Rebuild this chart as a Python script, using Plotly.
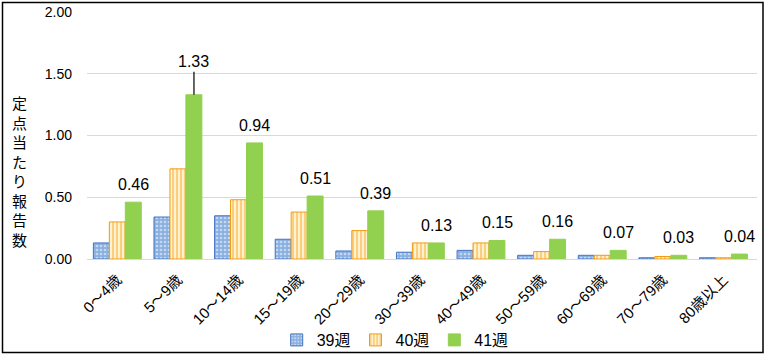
import plotly.graph_objects as go

categories = ["0～4歳", "5～9歳", "10～14歳", "15～19歳", "20～29歳", "30～39歳",
              "40～49歳", "50～59歳", "60～69歳", "70～79歳", "80歳以上"]
week39 = [0.13, 0.34, 0.35, 0.16, 0.065, 0.055, 0.07, 0.03, 0.03, 0.01, 0.01]
week40 = [0.30, 0.73, 0.48, 0.38, 0.23, 0.13, 0.13, 0.06, 0.03, 0.02, 0.01]
week41 = [0.46, 1.33, 0.94, 0.51, 0.39, 0.13, 0.15, 0.16, 0.07, 0.03, 0.04]
series_names = ["39週", "40週", "41週"]
y_ticks = [0, 0.5, 1.0, 1.5, 2.0]
y_title = "定点当たり報告数"

W, H = 769, 358
ML, MR, MT, MB = 87, 12, 12, 99
BARGAP = 0.21
FONT = "Liberation Sans, Noto Sans CJK JP, sans-serif"
JP = "Noto Sans CJK JP, sans-serif"

fig = go.Figure()
fig.add_trace(go.Bar(
    name=series_names[0], x=categories, y=week39,
    marker=dict(color="#9DC3E6", line=dict(color="#4472C4", width=1),
                pattern=dict(shape=".", fgcolor="#FFFFFF", bgcolor="#8AB0E0", size=4, solidity=0.35)),
))
fig.add_trace(go.Bar(
    name=series_names[1], x=categories, y=week40,
    marker=dict(color="#F5A623", line=dict(color="#F39C12", width=1),
                pattern=dict(shape="|", fgcolor="#F5A11E", bgcolor="#FFF3CF", size=4, solidity=0.45)),
))
fig.add_trace(go.Bar(
    name=series_names[2], x=categories, y=week41,
    marker=dict(color="#92D050", line=dict(color="#92D050", width=1)),
))

plot_w = W - ML - MR
plot_h = H - MT - MB
cat_px = plot_w / len(categories)
green_shift = (1 - BARGAP) / 3 * cat_px

annotations = []
for c, v in zip(categories, week41):
    if v == max(week41):
        annotations.append(dict(x=c, y=v, xref="x", yref="y", text=f"{v:.2f}",
                                showarrow=True, arrowhead=0, arrowwidth=1.2, arrowcolor="#000",
                                ax=0, ay=-33, xshift=green_shift, standoff=0,
                                font=dict(family=FONT, size=16, color="#000")))
    else:
        annotations.append(dict(x=c, y=v, xref="x", yref="y", text=f"{v:.2f}",
                                showarrow=False, yanchor="bottom", yshift=7, xshift=green_shift,
                                font=dict(family=FONT, size=16, color="#000")))

# vertical stacked y-axis title
annotations.append(dict(xref="paper", yref="paper", x=-(ML - 19) / plot_w,
                        y=1 - (171 - MT) / plot_h, text="<br>".join(y_title), showarrow=False,
                        xanchor="center", yanchor="middle", align="center",
                        font=dict(family=JP, size=15, color="#000")))

fig.update_layout(
    width=W, height=H,
    margin=dict(l=ML, r=MR, t=MT, b=MB, autoexpand=False),
    paper_bgcolor="white", plot_bgcolor="white",
    barmode="group", bargap=BARGAP, bargroupgap=0,
    font=dict(family=FONT, color="#000"),
    showlegend=True,
    legend=dict(orientation="h", x=0.46, xanchor="center", y=-(340 - (H - MB)) / plot_h,
                yanchor="middle", font=dict(family=FONT, size=16), itemwidth=30,
                bgcolor="rgba(0,0,0,0)", tracegroupgap=0),
    xaxis=dict(type="category", tickangle=-45, tickfont=dict(family=FONT, size=15),
               ticklabelstandoff=5,
               showline=True, linecolor="#D9D9D9", linewidth=1, ticks="", automargin=False),
    yaxis=dict(range=[0, 2.0], tickvals=y_ticks, tickformat=".2f", automargin=False,
               showgrid=True, gridcolor="#D9D9D9", gridwidth=1, zeroline=False,
               tickfont=dict(family=FONT, size=14), ticklabelstandoff=14),
    annotations=annotations,
    shapes=[dict(type="rect", xref="paper", yref="paper",
                 x0=-(ML - 2.5) / plot_w, x1=1 + (MR - 6) / plot_w,
                 y0=-(MB - 5.5) / plot_h, y1=1 + (MT - 2.5) / plot_h,
                 line=dict(color="#000", width=1.5))],
)

fig.write_html("out.html", config={"displayModeBar": False})
with open("out.html", encoding="utf-8") as f:
    html = f.read()
html = html.replace("<head>", "<head><style>html,body{margin:0;padding:0;overflow:hidden;}</style>", 1)
with open("out.html", "w", encoding="utf-8") as f:
    f.write(html)
